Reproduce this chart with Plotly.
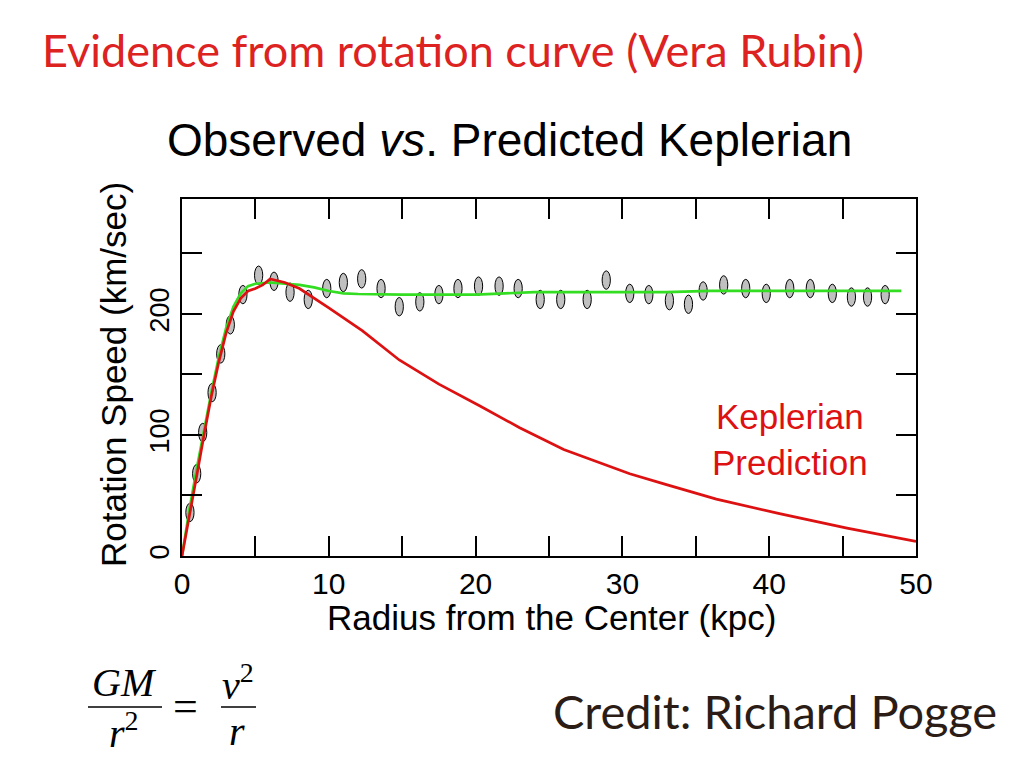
import plotly.graph_objects as go

# observed rotation speeds (grey ellipses)
obs_r = [0.54, 1.0, 1.41, 2.05, 2.64, 3.29, 4.15, 5.22, 6.27, 7.36, 8.6, 9.86,
         10.99, 12.24, 13.56, 14.8, 16.2, 17.5, 18.8, 20.2, 21.6, 22.9, 24.4,
         25.8, 27.6, 28.9, 30.5, 31.8, 33.2, 34.5, 35.5, 36.9, 38.4, 39.8,
         41.4, 42.8, 44.3, 45.6, 46.7, 47.9]
obs_v = [36, 68, 102, 135, 167, 191, 216, 232, 227, 218, 212, 221, 226, 229,
         221, 206, 210, 216, 221, 223, 223, 221, 212, 212, 212, 228, 217, 216,
         211, 208, 219, 224, 221, 217, 221, 221, 217, 214, 214, 216]

# fitted curve (green)
fit_r = [0, 0.5, 1, 1.5, 2, 2.5, 3, 3.5, 4, 4.5, 5, 6, 7, 8, 9, 10, 11, 12, 15,
         20, 22, 24, 26, 30, 33, 36, 40, 45, 49]
fit_v = [0, 38, 72, 104, 135, 164, 188, 206, 217, 223, 225, 226, 225, 224, 222,
         219, 217, 216.5, 216, 216, 217, 218, 218, 218, 218, 219, 219, 219, 219]

# keplerian prediction (red)
kep_r = [0, 0.5, 1, 1.5, 2, 2.5, 3, 3.5, 4, 4.5, 5, 5.5, 6, 7, 8, 10, 12.3,
         14.8, 17.5, 20.3, 23, 26, 30.5, 33, 36.4, 40.7, 45.3, 50]
kep_v = [0, 32, 66, 100, 132, 160, 184, 202, 213, 219, 221, 224, 229, 226, 221,
         205, 186, 162, 142, 124, 106, 88, 68, 59, 47, 35, 23, 12]

x_ticks = list(range(0, 51, 5))
x_labels = [str(t) if t % 10 == 0 else "" for t in x_ticks]
y_ticks = list(range(0, 251, 50))
y_labels = [str(t) if t % 100 == 0 else "" for t in y_ticks]

# page body adds an 8px margin, so the figure is shrunk and shifted by that
OFF = 8
W, H = 1023 - 2 * OFF, 767 - 2 * OFF
# plot area in (reference) pixels, used to place the slide texts
L, R, T, B = 182, 916, 199, 556


def px(x, y):
    return (x - L) / (R - L), (B - y) / (B - T)


fig = go.Figure()
fig.add_trace(go.Scatter(x=fit_r, y=fit_v, mode="lines",
                         line=dict(color="#33dd22", width=2.7)))
fig.add_trace(go.Scatter(x=kep_r, y=kep_v, mode="lines",
                         line=dict(color="#dd1111", width=2.7)))

# ellipses for the data points
for r, v in zip(obs_r, obs_v):
    fig.add_shape(type="circle", xref="x", yref="y",
                  x0=r - 0.28, x1=r + 0.28, y0=v - 7.6, y1=v + 7.6,
                  fillcolor="#c0c0c0", line=dict(color="black", width=1),
                  layer="below")


def note(text, x, y, size, color="black", family="Liberation Sans, Arial",
         angle=0, xanchor="center"):
    ax, ay = px(x, y)
    fig.add_annotation(text=text, x=ax, y=ay, xref="paper", yref="paper",
                       showarrow=False, xanchor=xanchor, yanchor="middle",
                       textangle=angle,
                       font=dict(size=size, color=color, family=family))


note("Evidence from rotation curve (Vera Rubin)", 40, 50, 45, "#dd2222",
     "Lato", xanchor="left")
note("Observed <i>vs</i>. Predicted Keplerian", 509, 140, 46)
note("Rotation Speed (km/sec)", 113, 375, 35, angle=-90)
note("Radius from the Center (kpc)", 551, 617, 35)
note("Credit: Richard Pogge", 775, 711, 47, "#2b1d16", "Lato")

serif = "Liberation Serif, Times New Roman"
note("<i>GM</i>", 124, 682, 40, family=serif)
note("<i>r</i><sup>2</sup>", 124, 730, 40, family=serif)
note("=", 185, 706, 44, family=serif)
note("<i>v</i><sup>2</sup>", 238, 682, 40, family=serif)
note("<i>r</i>", 237, 731, 40, family=serif)

for x0, x1 in [(88, 162), (221, 256)]:
    a0, b0 = px(x0, 707)
    a1, _ = px(x1, 707)
    fig.add_shape(type="line", xref="paper", yref="paper", x0=a0, x1=a1,
                  y0=b0, y1=b0, line=dict(color="black", width=1.5))

fig.add_annotation(text="Keplerian<br>Prediction", x=41.4, y=96, xref="x",
                   yref="y", showarrow=False,
                   font=dict(size=35, color="#dd1111",
                             family="Liberation Sans, Arial"))

axis_common = dict(showline=True, linecolor="black", linewidth=2,
                   mirror="ticks", ticks="inside", ticklen=20, tickwidth=2,
                   tickcolor="black", showgrid=False, zeroline=False)

fig.update_layout(
    width=W, height=H, autosize=False,
    margin=dict(l=L - OFF, r=W - (R - OFF), t=T - OFF, b=H - (B - OFF)),
    paper_bgcolor="white", plot_bgcolor="white",
    showlegend=False,
    xaxis=dict(range=[0, 50], tickvals=x_ticks, ticktext=x_labels,
               tickfont=dict(size=30, color="black",
                             family="Liberation Sans, Arial"),
               **axis_common),
    yaxis=dict(range=[0, 295], tickvals=y_ticks, ticktext=y_labels,
               tickangle=-90,
               tickfont=dict(size=27, color="black",
                             family="Liberation Sans, Arial"),
               **axis_common),
)

fig.write_html("out.html")
